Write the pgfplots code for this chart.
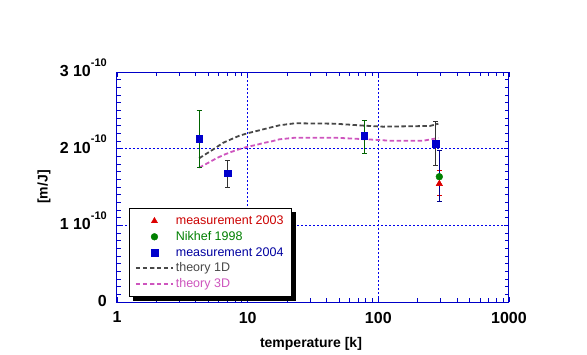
\documentclass[border=0pt]{standalone}
\usepackage{pgfplots}
\pgfplotsset{compat=1.18}
\usepackage{fontspec}
\setmainfont{Liberation Sans}
\usetikzlibrary{calc}
\definecolor{axblue}{RGB}{0,0,200}
\definecolor{gridblue}{RGB}{0,0,235}
\definecolor{c2004}{RGB}{0,0,204}
\definecolor{t2004}{RGB}{0,0,160}
\definecolor{cgreen}{RGB}{0,128,0}
\definecolor{cgreenbar}{RGB}{0,100,0}
\definecolor{cgraybar}{RGB}{50,50,50}
\definecolor{cnavy}{RGB}{0,0,140}
\definecolor{cred}{RGB}{220,0,0}
\definecolor{tred}{RGB}{204,0,0}
\definecolor{cgray}{RGB}{72,72,72}
\definecolor{cpink}{RGB}{206,85,190}

\pgfplotstableread{
x y ep em
4.25 2.13 0.37 0.37
78 2.165 0.205 0.225
}\mgreen
\pgfplotstableread{
x y ep em
7.0 1.68 0.17 0.18
273 2.07 0.287 0.29
}\mgray
\pgfplotstableread{
x y ep em
293 1.634 0.336 0.324
}\nikhef
\pgfplotstableread{
x y ep em
293 1.54 0.18 0.15
}\mthree
\pgfplotstableread{
x y
4.25 1.874
5.62 2.005
6.51 2.078
8.63 2.169
9.94 2.200
13.2 2.253
17.5 2.305
23 2.331
46.6 2.326
78 2.300
108.6 2.287
248 2.296
288 2.326
}\theoryone
\pgfplotstableread{
x y
4.25 1.752
4.91 1.809
5.69 1.869
6.51 1.917
7.55 1.960
8.73 1.996
10.0 2.026
11.6 2.048
13.2 2.074
15.3 2.096
17.5 2.122
23 2.143
46.6 2.143
81.5 2.122
123 2.104
221 2.104
288 2.139
}\theorythree

\newcommand{\expo}{\raisebox{10.5pt}{\fontsize{11}{11}\selectfont -10}}

\begin{document}
\begin{tikzpicture}
\useasboundingbox (0pt,0pt) rectangle (587pt,354pt);
\begin{axis}[
  at={(117pt,52pt)}, anchor=south west,
  scale only axis, width=392pt, height=230pt,
  xmode=log, xmin=1, xmax=1000, ymin=0, ymax=3,
  xtick={1,10,100,1000}, xticklabels={1,10,100,1000},
  minor xtick={2,3,4,5,6,7,8,9,20,30,40,50,60,70,80,90,200,300,400,500,600,700,800,900},
  ytick={0,1,2,3},
  yticklabels={0,{1 10\expo},{2 10\expo},{3 10\expo}},
  minor y tick num=9,
  extra x ticks={10,100}, extra x tick labels={},
  extra y ticks={1,2}, extra y tick labels={},
  extra tick style={grid=major, major tick length=0pt},
  tick align=inside,
  major tick length=5pt, minor tick length=4pt,
  every tick/.style={axblue, line width=0.8pt},
  axis line style={axblue, line width=1pt},
  major grid style={gridblue, line width=1pt, dash pattern=on 2pt off 2pt},
  xticklabel style={font=\fontsize{16}{16}\selectfont\bfseries, inner sep=0pt, anchor=north, yshift=-9.7pt},
  yticklabel style={font=\fontsize{16}{16}\selectfont\bfseries, inner sep=0pt, anchor=base east, xshift=-10pt, yshift=-4.5pt},
  xlabel={temperature [k]},
  xlabel style={font=\fontsize{14}{14}\selectfont\bfseries, at={(axis description cs:0.5,0)}, anchor=base, yshift=-45.5pt, xshift=-2pt},
  ylabel={[m/J]},
  ylabel style={font=\fontsize{14}{14}\selectfont\bfseries, at={(axis description cs:-0.186,0.5)}, anchor=center},
  legend image code/.code={\draw[mark repeat=2,mark phase=2,#1] plot coordinates {(0pt,0pt) (18.5pt,0pt) (37pt,0pt)};},
  legend cell align=left,
  legend style={at={(axis description cs:0.031,0.407)}, anchor=north west,
    name=leg,
    draw=none, fill=white,
    inner xsep=5.7pt, inner ysep=6.4pt, row sep=3.8pt,
    font=\fontsize{12.5}{13}\selectfont,
    nodes={inner xsep=2pt, inner ysep=0pt, text height=9.5pt, text depth=2.5pt}},
]
% theory curves (behind)
\addplot[forget plot, cgray, line width=1.8pt, dash pattern=on 4.5pt off 2.5pt] table[x=x,y=y] {\theoryone};
\addplot[forget plot, cpink, line width=1.8pt, dash pattern=on 4.5pt off 2.5pt] table[x=x,y=y] {\theorythree};
% measurement 2003
\addplot[only marks, mark=triangle*, mark size=3.6pt, color=cred,
  error bars/.cd, y dir=both, y explicit,
  error bar style={cred, line width=1pt},
  error mark options={rotate=90, mark size=2.5pt, cred, line width=1pt}]
  table[x=x,y=y,y error plus=ep,y error minus=em] {\mthree};
\addlegendentry{\textcolor{tred}{measurement 2003}}
% Nikhef 1998
\addplot[only marks, mark=*, mark size=3.4pt, color=cgreen,
  error bars/.cd, y dir=both, y explicit,
  error bar style={cnavy, line width=1pt},
  error mark options={rotate=90, mark size=2.5pt, cnavy, line width=1pt}]
  table[x=x,y=y,y error plus=ep,y error minus=em] {\nikhef};
\addlegendentry{\textcolor{cgreen}{Nikhef 1998}}
% measurement 2004
\addplot[only marks, mark=square*, mark size=3.4pt, color=c2004,
  error bars/.cd, y dir=both, y explicit,
  error bar style={cgreenbar, line width=1pt},
  error mark options={rotate=90, mark size=2.5pt, cgreenbar, line width=1pt}]
  table[x=x,y=y,y error plus=ep,y error minus=em] {\mgreen};
\addlegendentry{\textcolor{t2004}{measurement 2004}}
\addplot[forget plot, only marks, mark=square*, mark size=3.4pt, color=c2004,
  error bars/.cd, y dir=both, y explicit,
  error bar style={cgraybar, line width=1pt},
  error mark options={rotate=90, mark size=2.5pt, cgraybar, line width=1pt}]
  table[x=x,y=y,y error plus=ep,y error minus=em] {\mgray};
\addplot[forget plot, only marks, mark=triangle*, mark size=3.6pt, color=cred] table[x=x,y=y] {\mthree};
\addlegendimage{cgray, line width=1.8pt, dash pattern=on 4.5pt off 2.5pt}
\addlegendentry{\textcolor{cgray}{theory 1D}}
\addlegendimage{cpink, line width=1.8pt, dash pattern=on 4.5pt off 2.5pt}
\addlegendentry{\textcolor{cpink}{theory 3D}}
\end{axis}
% legend frame and drop shadow (right and bottom strips)
\draw[black, line width=0.8pt] (leg.south west) rectangle (leg.north east);
\fill[black] ($(leg.north east)+(0.4pt,-4pt)$) rectangle ($(leg.south east)+(4.4pt,-4.4pt)$);
\fill[black] ($(leg.south west)+(4pt,-0.4pt)$) rectangle ($(leg.south east)+(4.4pt,-4.4pt)$);
\end{tikzpicture}
\end{document}
